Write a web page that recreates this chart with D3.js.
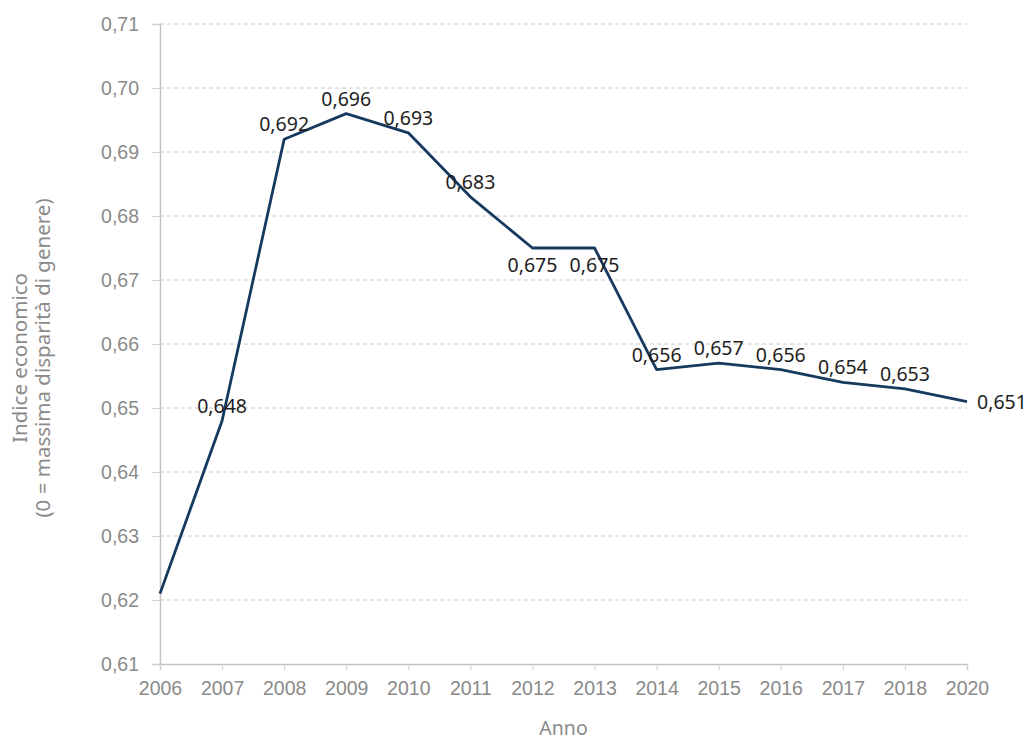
<!DOCTYPE html>
<html>
<head>
<meta charset="utf-8">
<script src="https://cdn.jsdelivr.net/npm/d3@7"></script>
<style>
  html, body { margin: 0; padding: 0; background: #fff; }
  svg { display: block; font-family: "Noto Sans", "Open Sans", sans-serif; }
</style>
</head>
<body>
<svg id="chart" width="1032" height="740"></svg>
<script>
// Anni (asse categoriale: il 2019 non compare)
const years = ["2006","2007","2008","2009","2010","2011","2012","2013","2014","2015","2016","2017","2018","2020"];
// Indice economico per anno
const values = [0.621, 0.648, 0.692, 0.696, 0.693, 0.683, 0.675, 0.675, 0.656, 0.657, 0.656, 0.654, 0.653, 0.651];
// Etichette dei valori (null = nessuna etichetta)
const valueLabels = [null, "0,648", "0,692", "0,696", "0,693", "0,683", "0,675", "0,675", "0,656", "0,657", "0,656", "0,654", "0,653", "0,651"];
// Posizione di ciascuna etichetta rispetto al punto
const labelPlacement = ["none","above","above","above","above","above","below","below","above","above","above","above","above","right"];
const yTicks = [0.61, 0.62, 0.63, 0.64, 0.65, 0.66, 0.67, 0.68, 0.69, 0.70, 0.71];

const svg = d3.select("#chart");
const margin = { left: 160, right: 65, top: 24, bottom: 76 };
const W = 1032, H = 740;
const FS = "19.5px";

const x = d3.scalePoint().domain(years).range([margin.left, W - margin.right]);
const y = d3.scaleLinear().domain([0.61, 0.71]).range([H - margin.bottom, margin.top]);

const fmt = d => d.toFixed(2).replace(".", ",");

// griglia orizzontale tratteggiata
svg.append("g")
  .selectAll("line")
  .data(yTicks.slice(1))
  .join("line")
  .attr("x1", margin.left)
  .attr("x2", W - margin.right)
  .attr("y1", d => y(d))
  .attr("y2", d => y(d))
  .attr("stroke", "#c8c8c8")
  .attr("stroke-width", 1)
  .attr("stroke-dasharray", "4,3");

// asse Y
const yAxis = svg.append("g")
  .attr("transform", `translate(${margin.left},0)`)
  .call(d3.axisLeft(y).tickValues(yTicks).tickFormat(fmt).tickSize(8).tickPadding(13));
yAxis.select(".domain").attr("stroke", "#c4c4c4").attr("stroke-width", 1.5);
yAxis.selectAll(".tick line").attr("stroke", "#d0d0d0");
yAxis.selectAll(".tick text").attr("fill", "#8a8a8a").style("font-size", FS);

// asse X
const xAxis = svg.append("g")
  .attr("transform", `translate(0,${H - margin.bottom})`)
  .call(d3.axisBottom(x).tickSize(6).tickPadding(11));
xAxis.select(".domain").attr("stroke", "#c4c4c4").attr("stroke-width", 1.5);
xAxis.selectAll(".tick line").attr("stroke", "#d0d0d0");
xAxis.selectAll(".tick text").attr("fill", "#8a8a8a").style("font-size", FS);

// titoli degli assi
svg.append("text")
  .attr("x", (margin.left + W - margin.right) / 2)
  .attr("y", 735)
  .attr("text-anchor", "middle")
  .attr("fill", "#8a8a8a")
  .style("font-size", FS)
  .text("Anno");

const yTitle = svg.append("text")
  .attr("transform", `translate(27,358) rotate(-90)`)
  .attr("text-anchor", "middle")
  .attr("fill", "#8a8a8a")
  .style("font-size", "20.5px");
yTitle.append("tspan").attr("x", 0).attr("dy", 0).text("Indice economico");
yTitle.append("tspan").attr("x", 0).attr("dy", 23).text("(0 = massima disparità di genere)");

// linea
const data = years.map((yr, i) => ({ yr, v: values[i], label: valueLabels[i], pos: labelPlacement[i] }));
svg.append("path")
  .datum(data)
  .attr("fill", "none")
  .attr("stroke", "#163a5f")
  .attr("stroke-width", 2.8)
  .attr("stroke-linejoin", "round")
  .attr("d", d3.line().x(d => x(d.yr)).y(d => y(d.v)));

// etichette dei valori
svg.append("g")
  .selectAll("text")
  .data(data.filter(d => d.label))
  .join("text")
  .attr("x", d => d.pos === "right" ? x(d.yr) + 10 : x(d.yr))
  .attr("y", d => d.pos === "below" ? y(d.v) + 24 : d.pos === "right" ? y(d.v) + 7 : y(d.v) - 8)
  .attr("text-anchor", d => d.pos === "right" ? "start" : "middle")
  .attr("fill", "#1e1e1e")
  .style("font-size", FS)
  .text(d => d.label);
</script>
</body>
</html>
